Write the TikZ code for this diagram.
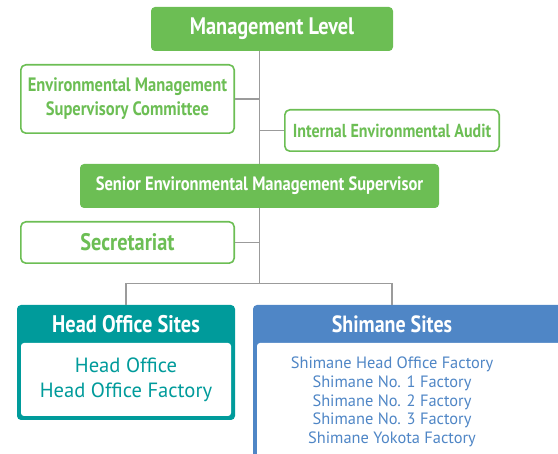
\documentclass[tikz,border=0pt]{standalone}
\usepackage{fontspec}
\setmainfont{PT Sans}
\newfontfamily\condsans{PT Sans}[FakeStretch=0.85]
\usetikzlibrary{positioning, calc}
\definecolor{mgmtgreen}{RGB}{108, 190, 84}
\definecolor{hoteal}{RGB}{0, 155, 155}
\definecolor{shblue}{RGB}{79, 134, 198}
\definecolor{linegray}{RGB}{155, 155, 155}

\begin{document}
\begin{tikzpicture}[x=1pt, y=1pt,
    headbox/.style={rectangle, rounded corners=4pt, fill=mgmtgreen, text=white, inner sep=0pt,
                    minimum height=44pt, font=\condsans\bfseries\fontsize{19.4}{22}\selectfont},
    subbox/.style={rectangle, rounded corners=5pt, draw=mgmtgreen, line width=1.6pt, fill=white,
                   text=mgmtgreen, align=center, inner sep=0pt, minimum width=213.4pt,
                   font=\condsans\bfseries\fontsize{19.4}{24}\selectfont},
    sitebox/.style={rectangle, rounded corners=4pt, inner sep=0pt},
    sitebody/.style={rectangle, rounded corners=3pt, fill=white, inner sep=0pt, align=center},
    sitetitle/.style={text=white, inner sep=0pt, font=\condsans\bfseries\fontsize{23.5}{26}\selectfont},
    link/.style={draw=linegray, line width=1.3pt}]

    \useasboundingbox (0,0) rectangle (558,-454);
    \clip (0,0) rectangle (558,-454);

    % Management
    \node[headbox, minimum width=242pt, font=\condsans\bfseries\fontsize{23.9}{26}\selectfont] (mgmt) at (272,-29) {Management Level};
    \node[subbox, minimum height=68.4pt] (committee) at (127.5,-99) {Environmental Management\\Supervisory Committee};
    \node[subbox, minimum width=214.4pt, minimum height=41.4pt,
          font=\condsans\bfseries\fontsize{18.8}{22}\selectfont] (audit) at (392,-130.5) {Internal Environmental Audit};

    % Supervisor
    \node[headbox, minimum width=359pt] (senior) at (259.5,-186) {Senior Environmental Management Supervisor};
    \node[subbox, minimum height=41.4pt, font=\condsans\bfseries\fontsize{23.9}{26}\selectfont] (secretariat) at (127.5,-242.5) {Secretariat};

    % Head Office side
    \node[sitebox, fill=hoteal, minimum width=218pt, minimum height=115pt] (hosite) at (126,-362.5) {};
    \node[sitebody, minimum width=210pt, minimum height=73pt, text=hoteal,
          font=\fontsize{20.6}{25}\selectfont] (hobody) at (126,-379.5) {Head Office\\Head Office Factory};
    \node[sitetitle, font=\condsans\bfseries\fontsize{24}{26}\selectfont] (hotitle) at (126,-324) {Head Office Sites};

    % Shimane side
    \node[sitebox, fill=shblue, minimum width=320pt, minimum height=180pt] (shsite) at (413,-395) {};
    \node[sitebody, minimum width=312pt, minimum height=138pt] (shbody) at (413,-412) {};
    \node[sitetitle] (shtitle) at (392,-324) {Shimane Sites};
    \node[text=shblue, align=center, inner sep=0pt, font=\fontsize{16.4}{18.7}\selectfont] (shlist) at (392,-402)
        {Shimane Head Office Factory\\Shimane No. 1 Factory\\Shimane No. 2 Factory\\Shimane No. 3 Factory\\Shimane Yokota Factory};

    % Lines
    \draw[link] (mgmt.south -| senior.north) -- (senior.north);
    \draw[link] (committee.east) -- (committee.east -| senior.north);
    \draw[link] (audit.west) -- (audit.west -| senior.north);
    \draw[link] (secretariat.east) -- (secretariat.east -| senior.south);
    \coordinate (split) at ($(senior.south)+(0,-75)$);
    \draw[link] (senior.south) -- (split);
    \draw[link] (hosite.north) |- (split);
    \draw[link] (split) -| (shtitle |- shsite.north);
\end{tikzpicture}
\end{document}
